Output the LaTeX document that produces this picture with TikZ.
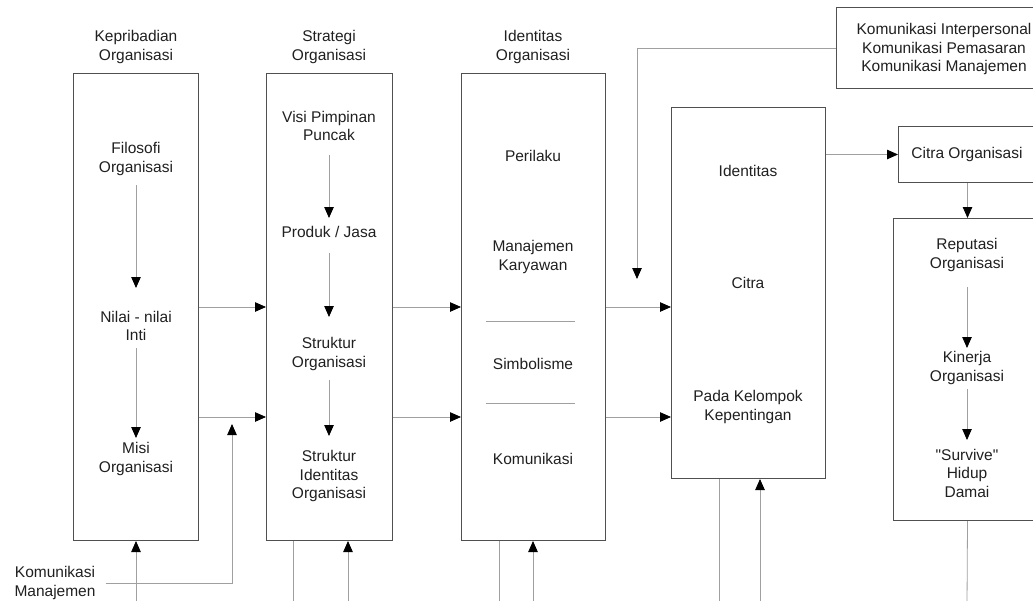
\documentclass[tikz,border=0pt]{standalone}
\usepackage{fontspec}
\setmainfont{Liberation Sans}[Ligatures=TeXOff]
\usetikzlibrary{arrows.meta}
\definecolor{boxc}{HTML}{505050}
\definecolor{linec}{HTML}{A0A0A0}
\definecolor{txtc}{HTML}{202020}
\begin{document}
\begin{tikzpicture}[x=1pt,y=-1pt,
  box/.style={draw=boxc, line width=1pt, anchor=north west, inner sep=0pt},
  lbl/.style={align=center, text=txtc, inner sep=0pt, font=\fontsize{15.5}{18.5}\selectfont},
  conn/.style={draw=linec, line width=0.8pt},
  arr/.style={conn, -{Triangle[length=11pt,width=9.5pt,color=black,fill=black]}}
]
\clip (0,0) rectangle (1033,600);
\fill[white] (0,0) rectangle (1033,600);

% titles
\node[lbl] (t1) at (136,47) {Kepribadian\\Organisasi};
\node[lbl] (t2) at (329,47) {Strategi\\Organisasi};
\node[lbl] (t3) at (533,47) {Identitas\\Organisasi};

% main boxes
\node[box, minimum width=125pt, minimum height=467pt] (b1) at (73,73) {};
\node[box, minimum width=126pt, minimum height=467pt] (b2) at (266,73) {};
\node[box, minimum width=144pt, minimum height=467pt] (b3) at (461,73) {};
\node[box, minimum width=154pt, minimum height=371pt] (b4) at (671,107) {};
\node[box, minimum width=210pt, minimum height=81pt] (kbox) at (836,7) {};
\node[box, minimum width=138pt, minimum height=56pt] (cbox) at (898,126) {};
\node[box, minimum width=148pt, minimum height=302pt] (rbox) at (893,218) {};

% box 1 texts
\node[lbl] (fil) at (136,159) {Filosofi\\Organisasi};
\node[lbl] (nil) at (136,326) {Nilai - nilai\\Inti};
\node[lbl] (mis) at (136,459) {Misi\\Organisasi};
\draw[arr] (fil.center |- 0,185) -- (fil.center |- 0,288);
\draw[arr] (nil.center |- 0,348) -- (nil.center |- 0,438);

% box 2 texts
\node[lbl] (vis) at (329,126) {Visi Pimpinan\\Puncak};
\node[lbl] (pro) at (329,232) {Produk / Jasa};
\node[lbl] (str) at (329,354) {Struktur\\Organisasi};
\node[lbl] (sid) at (329,476) {Struktur\\Identitas\\Organisasi};
\draw[arr] (vis.center |- 0,155) -- (vis.center |- 0,218);
\draw[arr] (pro.center |- 0,253) -- (pro.center |- 0,317);
\draw[arr] (str.center |- 0,380) -- (str.center |- 0,436);

% box 3 texts
\node[lbl] (per) at (533,156) {Perilaku};
\node[lbl] (man) at (533,257) {Manajemen\\Karyawan};
\node[lbl] (sim) at (533,364) {Simbolisme};
\node[lbl] (kom) at (533,459) {Komunikasi};
\coordinate (s1a) at (486,321); \coordinate (s1b) at (575,321);
\coordinate (s2a) at (486,403); \coordinate (s2b) at (575,403);
\draw[draw=linec, line width=0.9pt] (s1a) -- (s1b);
\draw[draw=linec, line width=0.9pt] (s2a) -- (s2b);

% box 4 texts
\node[lbl] (ide) at (748,171) {Identitas};
\node[lbl] (cit) at (748,283) {Citra};
\node[lbl] (pad) at (748,407) {Pada Kelompok\\Kepentingan};

% communication box
\node[lbl] (ktext) at (944,49) {Komunikasi Interpersonal\\Komunikasi Pemasaran\\Komunikasi Manajemen};
\coordinate (kend) at (637,279);
\draw[arr] (kbox.west) -| (kend);

% citra organisasi / reputasi
\node[lbl] (ctext) at (967,154) {Citra Organisasi};
\node[lbl] (rep) at (967,255) {Reputasi\\Organisasi};
\node[lbl] (kin) at (967,368) {Kinerja\\Organisasi};
\node[lbl] (sur) at (967,473) {"Survive"\\Hidup\\Damai};
\draw[arr] (b4.east |- cbox.west) -- (cbox.west);
\draw[arr] (cbox.south) -- (rbox.north);
\draw[arr] (rep.center |- 0,287) -- (rep.center |- 0,348);
\draw[arr] (kin.center |- 0,389) -- (kin.center |- 0,440);

% horizontal arrows between boxes
\foreach \yy in {307,417}{
  \draw[arr] (b1.east |- 0,\yy) -- (b2.west |- 0,\yy);
  \draw[arr] (b2.east |- 0,\yy) -- (b3.west |- 0,\yy);
  \draw[arr] (b3.east |- 0,\yy) -- (b4.west |- 0,\yy);
}

% komunikasi manajemen (bottom left)
\node[lbl] (km) at (55,583) {Komunikasi\\Manajemen};
\coordinate (kmend) at (232,424);
\draw[arr] ([xshift=10pt]km.east) -| (kmend);

% bottom feedback lines
\coordinate (f1) at (136,605);
\coordinate (f2a) at (293,605);
\coordinate (f2b) at (348,605);
\coordinate (f3a) at (499,605);
\coordinate (f3b) at (533,605);
\coordinate (f4a) at (719,605);
\coordinate (f4b) at (760,605);
\coordinate (f5) at (967,605);
\draw[arr] (f1) -- (b1.south);
\draw[conn] (b2.south -| f2a) -- (f2a);
\draw[arr] (f2b) -- (b2.south -| f2b);
\draw[conn] (b3.south -| f3a) -- (f3a);
\draw[arr] (f3b) -- (b3.south -| f3b);
\draw[conn] (b4.south -| f4a) -- (f4a);
\draw[arr] (f4b) -- (b4.south -| f4b);
\draw[conn] (rbox.south) -- (f5);
\end{tikzpicture}
\end{document}
